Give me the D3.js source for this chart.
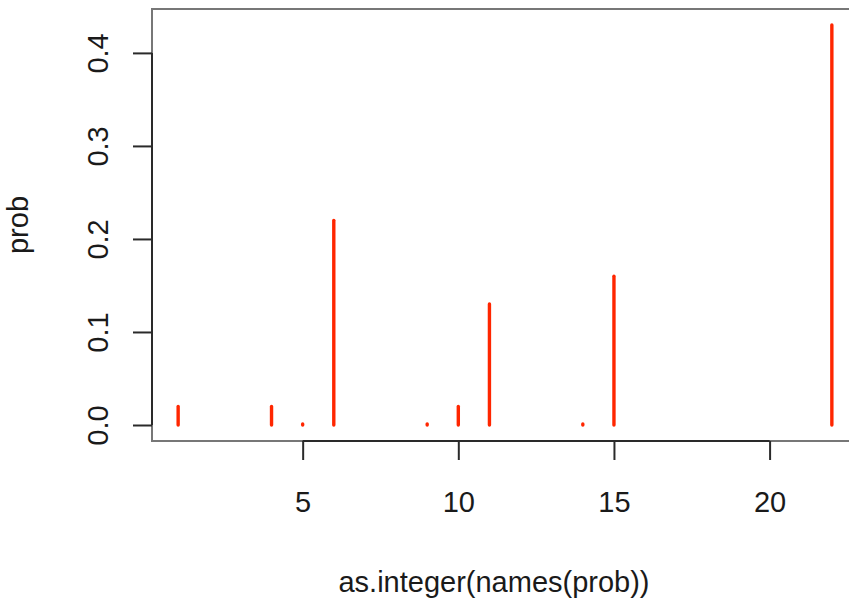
<!DOCTYPE html>
<html>
<head>
<meta charset="utf-8">
<script src="https://cdn.jsdelivr.net/npm/d3@7"></script>
<style>
  body { margin: 0; background: #fff; }
  text { font-family: "Liberation Sans", Arial, Helvetica, sans-serif; fill: #1a1a1a; }
</style>
</head>
<body>
<div id="chart"></div>
<script>
// values
var xs = [1, 4, 5, 6, 9, 10, 11, 14, 15, 22];
var prob = [0.02, 0.02, 0.001, 0.22, 0.001, 0.02, 0.13, 0.001, 0.16, 0.43];
var xTicks = [5, 10, 15, 20];
var yTicks = [0, 0.1, 0.2, 0.3, 0.4];

var width = 849, height = 602;
// plot box (right edge runs past the window, as in the reference)
var boxLeft = 152, boxRight = 858, boxTop = 9, boxBottom = 441;

var svg = d3.select("#chart").append("svg")
    .attr("width", width)
    .attr("height", height);

// R style 4% padding on each side
function padded(ext) {
  var d = (ext[1] - ext[0]) * 0.04;
  return [ext[0] - d, ext[1] + d];
}

var x = d3.scaleLinear()
    .domain(padded(d3.extent(xs)))
    .range([boxLeft, boxRight]);
var y = d3.scaleLinear()
    .domain(padded([0, d3.max(prob)]))
    .range([boxBottom, boxTop]);

var data = xs.map(function (d, i) { return { x: d, p: prob[i] }; });

// histogram-like vertical lines (type = "h")
svg.append("g").selectAll("line")
    .data(data)
    .enter()
    .append("line")
    .attr("x1", function (d) { return x(d.x); })
    .attr("x2", function (d) { return x(d.x); })
    .attr("y1", y(0))
    .attr("y2", function (d) { return y(d.p); })
    .attr("stroke", "#ff2600")
    .attr("stroke-width", 3.4)
    .attr("stroke-linecap", "round");

// frame
svg.append("rect")
    .attr("x", boxLeft)
    .attr("y", boxTop)
    .attr("width", boxRight - boxLeft)
    .attr("height", boxBottom - boxTop)
    .attr("fill", "none")
    .attr("stroke", "#777")
    .attr("stroke-width", 2);

// x axis
var xAxis = svg.append("g")
    .attr("transform", "translate(0," + boxBottom + ")")
    .call(d3.axisBottom(x).tickValues(xTicks).tickSize(19).tickFormat(d3.format("d")));
xAxis.select(".domain").remove();
xAxis.append("line")
    .attr("x1", x(xTicks[0]))
    .attr("x2", x(xTicks[xTicks.length - 1]))
    .attr("stroke", "#2a2a2a")
    .attr("stroke-width", 2);
xAxis.selectAll(".tick line").attr("stroke", "#2a2a2a").attr("stroke-width", 2);
xAxis.selectAll(".tick text")
    .attr("font-size", 29)
    .attr("font-family", "Liberation Sans, Arial, sans-serif")
    .attr("fill", "#1a1a1a")
    .attr("dy", null)
    .attr("y", 71);

// y axis
var yAxis = svg.append("g")
    .attr("transform", "translate(" + boxLeft + ",0)")
    .call(d3.axisLeft(y).tickValues(yTicks).tickSize(19).tickFormat(d3.format(".1f")));
yAxis.select(".domain").remove();
yAxis.append("line")
    .attr("y1", y(yTicks[0]))
    .attr("y2", y(yTicks[yTicks.length - 1]))
    .attr("stroke", "#2a2a2a")
    .attr("stroke-width", 2);
yAxis.selectAll(".tick line").attr("stroke", "#2a2a2a").attr("stroke-width", 2);
yAxis.selectAll(".tick text")
    .attr("font-size", 29)
    .attr("font-family", "Liberation Sans, Arial, sans-serif")
    .attr("fill", "#1a1a1a")
    .attr("x", null)
    .attr("dy", null)
    .attr("text-anchor", "middle")
    .attr("transform", "translate(-44,0) rotate(-90)");

// axis titles
svg.append("text")
    .attr("x", 494)
    .attr("y", 592)
    .attr("text-anchor", "middle")
    .attr("font-size", 29)
    .text("as.integer(names(prob))");

svg.append("text")
    .attr("transform", "translate(28," + ((boxTop + boxBottom) / 2) + ") rotate(-90)")
    .attr("text-anchor", "middle")
    .attr("font-size", 29)
    .text("prob");
</script>
</body>
</html>
